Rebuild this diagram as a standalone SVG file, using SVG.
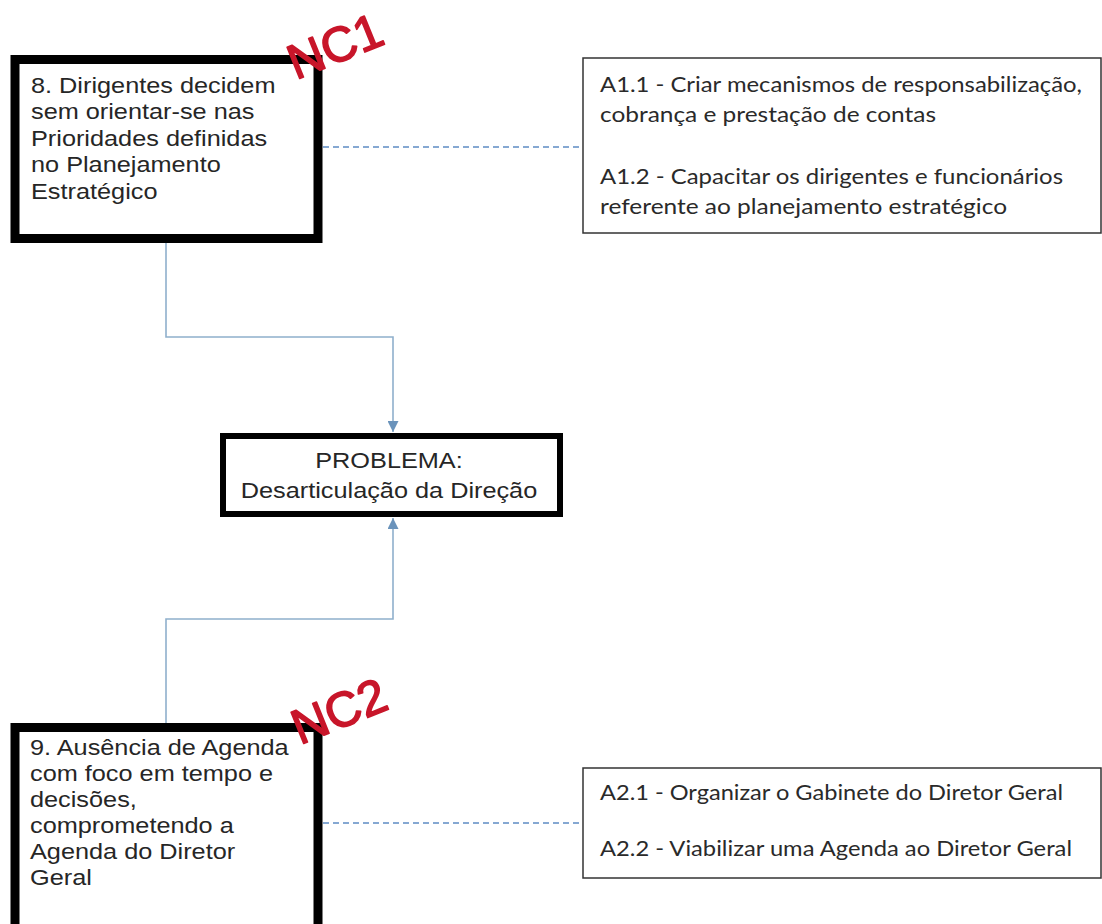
<svg xmlns="http://www.w3.org/2000/svg" width="1102" height="924" viewBox="0 0 1102 924">
<style>
.thick{fill:#fff;stroke:#000;stroke-width:9}
.mid{fill:#fff;stroke:#000;stroke-width:6}
.thin{fill:#fff;stroke:#333;stroke-width:1.5}
.arial{font-family:"Liberation Sans",Arial,sans-serif;font-size:22px;fill:#262626}
.cal{font-family:Lato,"Open Sans",sans-serif;font-size:21px;fill:#2a2a2a}
.nc{font-family:"Liberation Sans",Arial,sans-serif;font-size:49px;fill:#c8162a;stroke:#c8162a;stroke-width:1.6;stroke-linejoin:round}
.conn{fill:none;stroke:#8fb0cc;stroke-width:1.6}
.dash{fill:none;stroke:#5d8cc4;stroke-width:1.4;stroke-dasharray:6 4}
</style>
<defs>
<marker id="arr" viewBox="0 0 10 10" refX="10" refY="5" markerWidth="11" markerHeight="11" markerUnits="userSpaceOnUse" orient="auto">
<path d="M0,0 L10,5 L0,10 z" fill="#6a93bb"/>
</marker>
</defs>
<rect width="1102" height="924" fill="#fff"/>
<g id="connectors">
<path class="conn" d="M166 243 V337 H393 V432" marker-end="url(#arr)"/>
<path class="conn" d="M166 723 V619 H393 V518" marker-end="url(#arr)"/>
<path class="dash" d="M323 147 H583"/>
<path class="dash" d="M323 823 H583"/>
</g>
<g id="node-nc1">
<rect class="thick" x="15" y="59.5" width="303" height="179"/>
<text class="arial" transform="matrix(1.15 0 0 1 31 0)"><tspan x="0" y="93">8. Dirigentes decidem</tspan><tspan x="0" y="119.5">sem orientar-se nas</tspan><tspan x="0" y="146">Prioridades definidas</tspan><tspan x="0" y="172.5">no Planejamento</tspan><tspan x="0" y="199">Estratégico</tspan></text>
<text class="nc" transform="translate(296 80) rotate(-22)">NC1</text>
</g>
<g id="node-a1">
<rect class="thin" x="583" y="58" width="518" height="175"/>
<text class="cal" x="600" y="92" textLength="482" lengthAdjust="spacingAndGlyphs">A1.1 - Criar mecanismos de responsabilização,</text>
<text class="cal" x="600" y="122" textLength="336" lengthAdjust="spacingAndGlyphs">cobrança e prestação de contas</text>
<text class="cal" x="600" y="184" textLength="463" lengthAdjust="spacingAndGlyphs">A1.2 - Capacitar os dirigentes e funcionários</text>
<text class="cal" x="600" y="214" textLength="407" lengthAdjust="spacingAndGlyphs">referente  ao planejamento estratégico</text>
</g>
<g id="node-problema">
<rect class="mid" x="223" y="436" width="337" height="78"/>
<text class="arial" text-anchor="middle" transform="matrix(1.15 0 0 1 389 0)"><tspan x="0" y="468">PROBLEMA:</tspan><tspan x="0" y="498">Desarticulação da Direção</tspan></text>
</g>
<g id="node-nc2">
<rect class="thick" x="15" y="727.5" width="303" height="220"/>
<text class="arial" transform="matrix(1.15 0 0 1 30 0)"><tspan x="0" y="755">9. Ausência de Agenda</tspan><tspan x="0" y="781">com foco em tempo e</tspan><tspan x="0" y="807">decisões,</tspan><tspan x="0" y="833">comprometendo a</tspan><tspan x="0" y="859">Agenda do Diretor</tspan><tspan x="0" y="885">Geral</tspan></text>
<text class="nc" transform="translate(300 745) rotate(-22)">NC2</text>
</g>
<g id="node-a2">
<rect class="thin" x="583" y="768" width="518" height="110"/>
<text class="cal" x="600" y="800" textLength="463" lengthAdjust="spacingAndGlyphs">A2.1 - Organizar o Gabinete do Diretor Geral</text>
<text class="cal" x="600" y="856" textLength="472" lengthAdjust="spacingAndGlyphs">A2.2 - Viabilizar uma Agenda ao Diretor Geral</text>
</g>
</svg>
